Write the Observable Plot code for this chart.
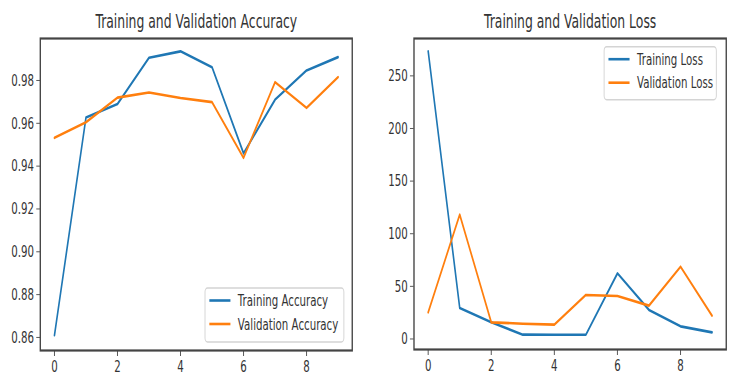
<!DOCTYPE html>
<html><head><meta charset="utf-8">
<script src="https://cdn.jsdelivr.net/npm/d3@7"></script>
<script src="https://cdn.jsdelivr.net/npm/@observablehq/plot@0.6"></script>
<style>
body{margin:0;background:#fff;}
#fig{position:relative;width:734px;height:389px;overflow:hidden;background:#fff;}
.panel{position:absolute;top:0;width:367px;height:389px;}
</style></head><body><div id="fig"></div>
<script>
const epochs=[0,1,2,3,4,5,6,7,8,9];
const trainAcc=[0.861,0.9627,0.969,0.9906,0.9936,0.9862,0.946,0.971,0.9847,0.9909];
const valAcc=[0.9532,0.9605,0.972,0.9744,0.9718,0.9699,0.9439,0.9792,0.9672,0.9816];
const trainLoss=[273.4,29.5,15.8,4.1,4.0,4.0,62.4,27.6,12.0,6.3];
const valLoss=[25.3,118.2,15.8,14.5,13.6,41.8,40.9,31.7,68.7,22.1];
const xTicks=[0,2,4,6,8];
const accTicks=[0.86,0.88,0.90,0.92,0.94,0.96,0.98];
const lossTicks=[0,50,100,150,200,250];
const accSeries=["Training Accuracy","Validation Accuracy"];
const lossSeries=["Training Loss","Validation Loss"];
const titles=["Training and Validation Accuracy","Training and Validation Loss"];
const seriesColors=["#1f77b4","#ff7f0e"];

const SQ=0.62, PW=367, VW=Math.round(PW/SQ), H=389;
const FONT='"DejaVu Sans", sans-serif';

function panel({title, series, values, yTicks, yDomain, fmt, ml, mr, mb, legend}){
  const data = series.flatMap((s,i)=>epochs.map((e,j)=>({epoch:e, value:values[i][j], series:s})));
  const plot = Plot.plot({
    width:VW, height:H, marginLeft:ml, marginRight:mr, marginTop:38, marginBottom:mb,
    style:{fontFamily:FONT, fontSize:"16.5px", color:"#333", background:"transparent"},
    x:{domain:[-0.45,9.45], ticks:xTicks, tickFormat:d3.format("d"), tickSize:6, tickPadding:4, label:null},
    y:{domain:yDomain, ticks:yTicks, tickFormat:fmt, tickSize:6, tickPadding:4, label:null},
    color:{domain:series, range:seriesColors},
    marks:[
      Plot.line(data,{x:"epoch", y:"value", stroke:"series", strokeWidth:2.6}),
      Plot.frame({stroke:"#444", strokeWidth:2.2}),
      Plot.text([title],{frameAnchor:"top", lineAnchor:"middle", dy:-17, text:d=>d, fontSize:20, fill:"#333"})
    ]
  });
  const color = plot.scale("color");
  const g = d3.select(plot).append("g").attr("font-family",FONT).attr("font-size",16.5).attr("text-anchor","start");
  const bx = legend.x, by = legend.y;
  g.append("rect").attr("x",bx).attr("y",by).attr("width",legend.w).attr("height",legend.h)
    .attr("rx",4).attr("fill","#fff").attr("fill-opacity",0.85).attr("stroke","#d4d4d4").attr("stroke-width",1.5);
  series.forEach((s,i)=>{
    const yy = by + 12.5 + i*23.5;
    g.append("line").attr("x1",bx+7).attr("x2",bx+41).attr("y1",yy).attr("y2",yy)
      .attr("stroke",color.apply(s)).attr("stroke-width",2.6);
    g.append("text").attr("x",bx+53).attr("y",yy).attr("dy","0.35em").attr("fill","#333").attr("text-anchor","start").text(s);
  });
  plot.setAttribute("viewBox",`0 0 ${VW} ${H}`);
  plot.setAttribute("width",PW);
  plot.setAttribute("height",H);
  plot.setAttribute("preserveAspectRatio","none");
  plot.style.width=PW+"px"; plot.style.height=H+"px"; plot.style.maxWidth="none";
  return plot;
}

const fig = document.getElementById("fig");
const left = panel({title:titles[0], series:accSeries, values:[trainAcc,valAcc], yTicks:accTicks,
  yDomain:[0.8539,0.9996], fmt:d3.format(".2f"), ml:64.5, mr:24.3, mb:39,
  legend:{x:592-24.3-13-224, y:389-39-8-54, w:224, h:54}});
const right = panel({title:titles[1], series:lossSeries, values:[trainLoss,valLoss], yTicks:lossTicks,
  yDomain:[-10,285.5], fmt:d3.format("d"), ml:75.3, mr:13, mb:40,
  legend:{x:592-13-15.5-181, y:38+8.7, w:181, h:53}});
const d1=document.createElement("div"); d1.className="panel"; d1.style.left="0px"; d1.appendChild(left);
const d2=document.createElement("div"); d2.className="panel"; d2.style.left="367px"; d2.appendChild(right);
fig.appendChild(d1); fig.appendChild(d2);
</script></body></html>
